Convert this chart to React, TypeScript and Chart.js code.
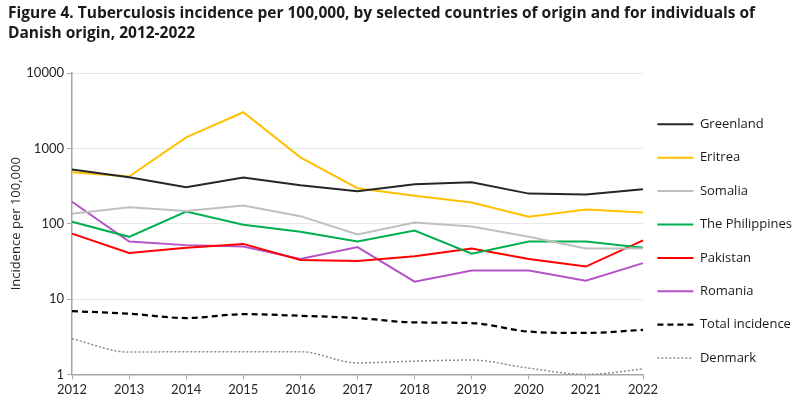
import { useEffect, useRef } from "react";
import { Chart, registerables } from "chart.js";
Chart.register(...registerables);

const years = ["2012", "2013", "2014", "2015", "2016", "2017", "2018", "2019", "2020", "2021", "2022"];
const greenland = [525, 414, 305, 410, 324, 270, 334, 355, 251, 244, 287];
const eritrea = [483, 423, 1400, 3020, 760, 296, 236, 191, 124, 155, 141];
const somalia = [136, 165, 148, 174, 126, 72, 104, 92, 67, 47, 47];
const philippines = [106, 67, 145, 97, 78, 58, 81, 40, 58, 58, 48];
const pakistan = [74, 41, 48, 54, 33, 32, 37, 47, 34, 27, 60];
const romania = [196, 58, 52, 50, 34, 49, 17, 24, 24, 17.5, 30];
const totalIncidence = [6.9, 6.4, 5.6, 6.3, 6.0, 5.6, 4.9, 4.8, 3.7, 3.55, 3.9];
const denmark = [2.96, 1.98, 2.0, 2.0, 2.0, 1.42, 1.5, 1.55, 1.21, 1.0, 1.18];
const yTicks = [1, 10, 100, 1000, 10000];

const FONT = "Lato, 'Open Sans', sans-serif";
const FONT2 = "'Open Sans', Lato, sans-serif";

const shiftLegend = {
  id: "shiftLegend",
  afterLayout(chart: any) {
    const lg = chart.legend;
    if (lg) {
      lg.left -= 6;
      lg.right -= 6;
    }
  },
};

export default function App() {
  const ref = useRef<HTMLCanvasElement | null>(null);
  useEffect(() => {
    if (!ref.current) return;
    const line = (label: string, data: number[], color: string, extra: any = {}) => ({
      label,
      data,
      borderColor: color,
      backgroundColor: color,
      borderWidth: 2,
      pointRadius: 0,
      pointHoverRadius: 0,
      fill: false,
      tension: 0,
      ...extra,
    });
    const chart = new Chart(ref.current, {
      type: "line",
      data: {
        labels: years,
        datasets: [
          line("Greenland", greenland, "#262626"),
          line("Eritrea", eritrea, "#FFC000"),
          line("Somalia", somalia, "#BFBFBF"),
          line("The Philippines", philippines, "#00B050"),
          line("Pakistan", pakistan, "#FF0000"),
          line("Romania", romania, "#B652C8"),
          line("Total incidence", totalIncidence, "#000000", {
            borderDash: [6, 4],
            borderWidth: 2.25,
            cubicInterpolationMode: "monotone",
          }),
          line("Denmark", denmark, "#8C8C8C", {
            borderDash: [2, 2],
            borderWidth: 1.5,
            cubicInterpolationMode: "monotone",
          }),
        ],
      },
      plugins: [shiftLegend],
      options: {
        animation: false,
        responsive: false,
        maintainAspectRatio: false,
        layout: { padding: { left: 8, right: 0, top: 0, bottom: 0 } },
        plugins: {
          title: {
            display: true,
            align: "start",
            text: [
              "Figure 4. Tuberculosis incidence per 100,000, by selected countries of origin and for individuals of",
              "Danish origin, 2012-2022",
            ],
            color: "#1a1a1a",
            font: { family: FONT2, size: 15.5, weight: "bold", lineHeight: 1.26 },
            padding: { top: 4, bottom: 30 },
          },
          legend: {
            position: "right",
            align: "center",
            maxWidth: 157,
            title: { display: true, text: "", padding: 33.5 },
            labels: {
              usePointStyle: true,
              pointStyle: "line",
              pointStyleWidth: 36,
              boxWidth: 36,
              padding: 20.4,
              color: "#1a1a1a",
              font: { family: FONT2, size: 13 },
              generateLabels: (c: any) => {
                const items = (Chart.defaults as any).plugins.legend.labels.generateLabels(c);
                return items.map((it: any) => {
                  const ds: any = c.data.datasets[it.datasetIndex];
                  return {
                    ...it,
                    strokeStyle: ds.borderColor,
                    fillStyle: ds.borderColor,
                    lineWidth: ds.borderWidth,
                    lineDash: ds.borderDash || [],
                    pointStyle: "line",
                  };
                });
              },
            },
          },
          tooltip: { enabled: false },
        },
        scales: {
          x: {
            type: "category",
            offset: false,
            grid: {
              display: true,
              drawOnChartArea: false,
              drawTicks: true,
              tickLength: 5,
              tickColor: "#A6A6A6",
            },
            border: { display: true, color: "#A6A6A6", width: 1.5 },
            ticks: {
              color: "#262626",
              font: { family: FONT, size: 13 },
              padding: 3,
              maxRotation: 0,
              autoSkip: false,
            },
          },
          y: {
            type: "logarithmic",
            min: 1,
            max: 10000,
            afterBuildTicks: (s: any) => {
              s.ticks = yTicks.map((v) => ({ value: v }));
            },
            afterFit: (s: any) => {
              s.width = 64;
            },
            grid: {
              color: "#E8E8E8",
              drawTicks: true,
              tickLength: 5,
              tickColor: "#A6A6A6",
            },
            border: { display: true, color: "#A6A6A6", width: 1.5 },
            title: {
              display: true,
              text: "Incidence per 100,000",
              color: "#262626",
              font: { family: FONT2, size: 13 },
              padding: { top: 0, bottom: 4 },
            },
            ticks: {
              color: "#262626",
              font: { family: FONT, size: 13 },
              padding: 3,
              callback: (v: any) => String(v),
            },
          },
        },
      },
    });
    return () => chart.destroy();
  }, []);
  return (
    <div style={{ position: "fixed", left: 0, top: 0, width: 800, height: 401, background: "#fff" }}>
      <canvas ref={ref} width={800} height={401} style={{ width: 800, height: 401 }} />
    </div>
  );
}
